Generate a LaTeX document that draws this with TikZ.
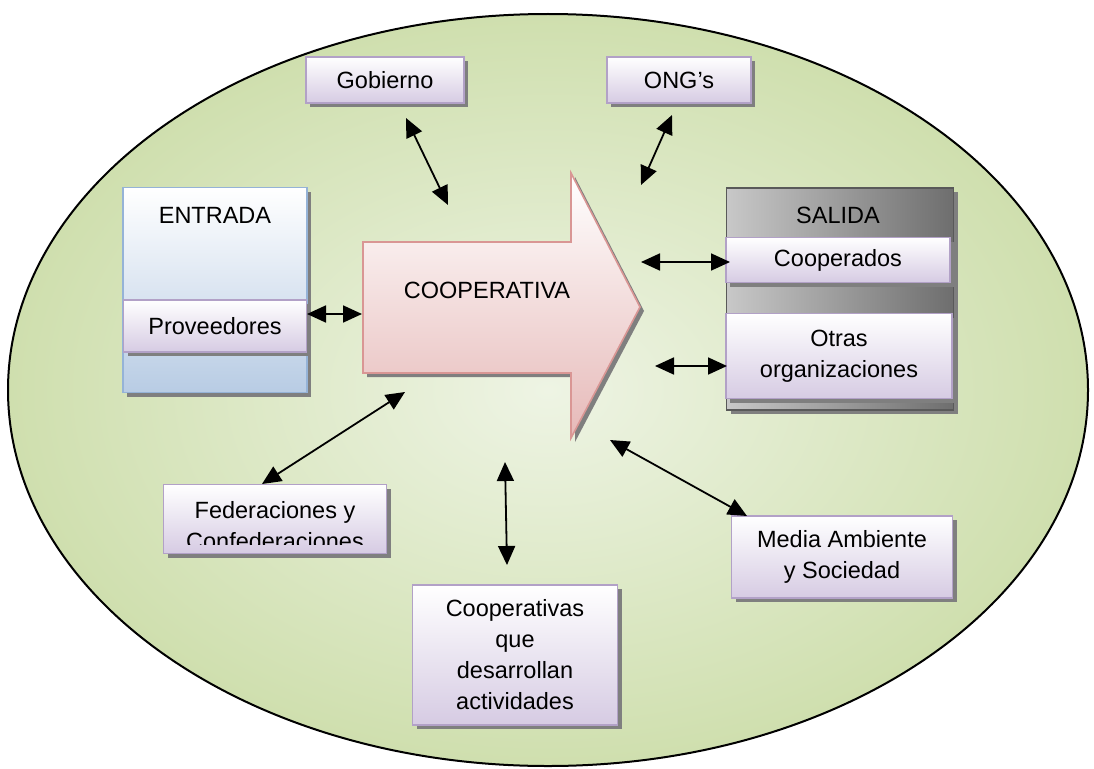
\documentclass[tikz,border=0pt]{standalone}
\usepackage{fontspec}
\setmainfont{Liberation Sans}
\usetikzlibrary{arrows.meta,shadows}
\definecolor{elin}{HTML}{EEF4E4}
\definecolor{elout}{HTML}{CFDFAE}
\definecolor{boxline}{HTML}{B2A1C7}
\definecolor{boxlow}{HTML}{D6CBE3}
\definecolor{entline}{HTML}{95B3D7}
\definecolor{entlow}{HTML}{B8CCE4}
\definecolor{arline}{HTML}{D99694}
\definecolor{arlow}{HTML}{E6B9B8}
\definecolor{sallight}{HTML}{C8C8C8}
\definecolor{saldark}{HTML}{6E6E6E}
\definecolor{shd}{HTML}{7F7F7F}
\tikzset{
  shd/.style={drop shadow={shadow xshift=4pt,shadow yshift=-4pt,fill=shd,opacity=1}},
  bx/.style={draw=boxline,line width=1.6pt,top color=white,bottom color=boxlow,shd,
    inner sep=0pt,align=center,font=\fontsize{23.5}{31}\selectfont},
  txt/.style={inner sep=0pt,align=center,font=\fontsize{23.5}{31}\selectfont},
  lk/.style={{Triangle[length=19pt,width=17pt]}-{Triangle[length=19pt,width=17pt]},line width=1.8pt},
  every picture/.style={line width=0.8pt},
}
\begin{document}
\begin{tikzpicture}[x=1pt,y=-1pt]
\useasboundingbox[fill=white] (0,0) rectangle (1094,768);
\draw[line width=2pt,inner color=elin,outer color=elout] (548,390) ellipse [x radius=540,y radius=376];

% top boxes
\node[bx,minimum width=158pt,minimum height=46pt] (gob) at (385,80) {Gobierno};
\node[bx,minimum width=144pt,minimum height=46pt] (ong) at (679,80) {ONG's};

% entrada
\node[draw=entline,line width=1.6pt,top color=white,bottom color=entlow,shd,
  minimum width=184pt,minimum height=205pt] (ent) at (215,290) {};
\node[txt] (entt) at (215,215) {ENTRADA};
\node[bx,minimum width=183pt,minimum height=52pt] (prov) at (215,326) {Proveedores};

% salida
\node[draw=gray!70!black,line width=1.2pt,left color=sallight,right color=saldark,shd,
  minimum width=227pt,minimum height=222pt] (sal) at (840,299) {};
\node[txt] (salt) at (838,215) {SALIDA};
\node[bx,minimum width=224pt,minimum height=45pt] (coo) at (838,260) {Cooperados};
\node[bx,minimum width=226pt,minimum height=85pt] (otr) at (839,356) {Otras\\organizaciones};

% flecha central
\draw[draw=arline,line width=1.6pt,top color=white,bottom color=arlow,shd]
  (363,242) -- (571,242) -- (571,173) -- (640,307) -- (571,438) -- (571,373) -- (363,373) -- cycle;
\node[txt] (coop) at (487,290) {COOPERATIVA};

% cajas de abajo
\node[bx,minimum width=223pt,minimum height=69pt] (fed) at (275,519) {};
\begin{scope}
\clip (163,484) rectangle (386,544);
\node[txt,anchor=north] (fedt) at (275,501) {Federaciones y\\Confederaciones};
\end{scope}
\node[bx,minimum width=205pt,minimum height=140pt] (act) at (515,655) {Cooperativas\\que\\desarrollan\\actividades};
\node[bx,minimum width=221pt,minimum height=82pt] (med) at (842,557) {Media Ambiente\\y Sociedad};

% extremos de flechas
\coordinate (g1) at (406,118); \coordinate (g2) at (448,205);
\coordinate (o1) at (672,115); \coordinate (o2) at (641,185);
\coordinate (p1) at (307,314); \coordinate (p2) at (362,314);
\coordinate (c1) at (641,262); \coordinate (c2) at (730,262);
\coordinate (r1) at (655,366); \coordinate (r2) at (727,366);
\coordinate (f1) at (405,392); \coordinate (f2) at (262,484);
\coordinate (a1) at (505,462); \coordinate (a2) at (507,565);
\coordinate (m1) at (610,440); \coordinate (m2) at (747,516);
\draw[lk] (g1)--(g2); \draw[lk] (o1)--(o2); \draw[lk] (p1)--(p2);
\draw[lk] (c1)--(c2); \draw[lk] (r1)--(r2); \draw[lk] (f1)--(f2);
\draw[lk] (a1)--(a2); \draw[lk] (m1)--(m2);
\end{tikzpicture}
\end{document}
